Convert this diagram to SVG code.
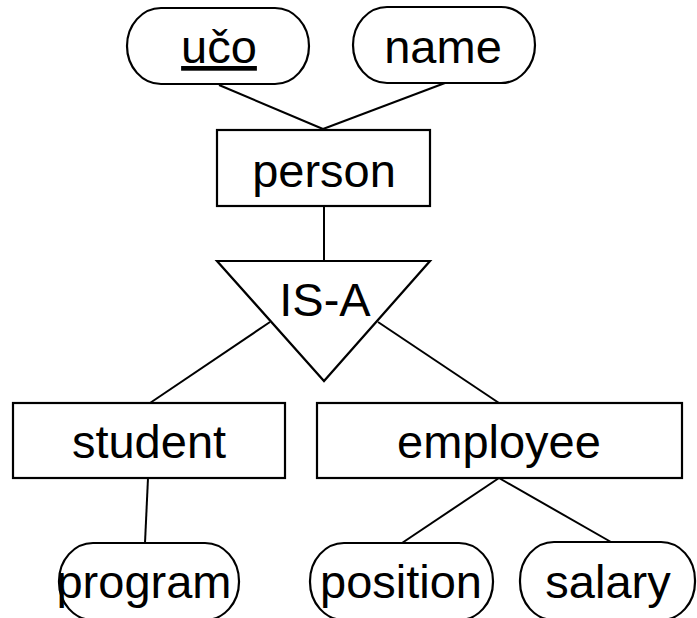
<svg xmlns="http://www.w3.org/2000/svg" width="697" height="618" viewBox="0 0 697 618">
  <style>
    .shape { fill: #ffffff; stroke: #000000; stroke-width: 2.2; }
    .edge { stroke: #000000; stroke-width: 2; fill: none; }
    .label { font-family: "Liberation Sans", Arial, sans-serif; font-size: 47px; fill: #000000; text-anchor: middle; }
  </style>
  <rect width="697" height="618" fill="#ffffff"/>

  <!-- connectors -->
  <g id="connectors">
    <line class="edge" x1="219" y1="85" x2="323" y2="129"/>
    <line class="edge" x1="445" y1="83" x2="323" y2="129"/>
    <line class="edge" x1="324" y1="206" x2="324" y2="261"/>
    <line class="edge" x1="270" y1="322" x2="150" y2="403"/>
    <line class="edge" x1="378" y1="322" x2="499" y2="403"/>
    <line class="edge" x1="148" y1="478" x2="145" y2="543"/>
    <line class="edge" x1="499" y1="478" x2="402" y2="543"/>
    <line class="edge" x1="499" y1="478" x2="611" y2="542"/>
  </g>

  <!-- attributes of person -->
  <g id="attr-uco">
    <rect class="shape" x="127" y="8" width="182" height="76" rx="34" ry="38"/>
    <text class="label" x="219" y="63" text-decoration="underline">učo</text>
  </g>
  <g id="attr-name">
    <rect class="shape" x="353" y="7" width="182" height="76" rx="34" ry="38"/>
    <text class="label" x="443" y="63">name</text>
  </g>

  <!-- entity person -->
  <g id="person">
    <rect class="shape" x="217" y="130" width="213" height="76"/>
    <text class="label" x="324" y="187">person</text>
  </g>

  <!-- specialization triangle -->
  <g id="isa">
    <polygon class="shape" points="217,261 430,261 324,381"/>
    <text class="label" x="325" y="316">IS-A</text>
  </g>

  <!-- subclasses -->
  <g id="student">
    <rect class="shape" x="13" y="403" width="272" height="75"/>
    <text class="label" x="149" y="458">student</text>
  </g>
  <g id="employee">
    <rect class="shape" x="317" y="403" width="365" height="75"/>
    <text class="label" x="499" y="458">employee</text>
  </g>

  <!-- attributes of subclasses -->
  <g id="attr-program">
    <rect class="shape" x="59" y="543" width="180" height="77" rx="34" ry="38"/>
    <text class="label" x="144" y="598">program</text>
  </g>
  <g id="attr-position">
    <rect class="shape" x="310" y="543" width="183" height="77" rx="34" ry="38"/>
    <text class="label" x="401" y="598">position</text>
  </g>
  <g id="attr-salary">
    <rect class="shape" x="520" y="542" width="175" height="78" rx="34" ry="38"/>
    <text class="label" x="608" y="598">salary</text>
  </g>
</svg>
